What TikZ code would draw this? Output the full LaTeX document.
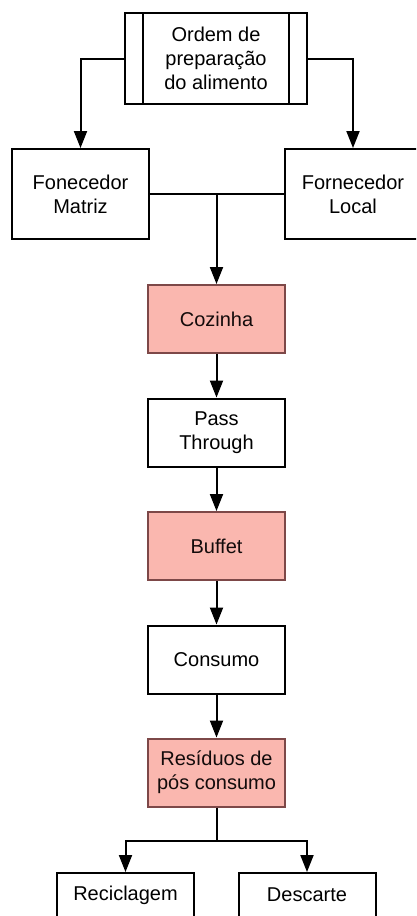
\documentclass[tikz,border=0pt]{standalone}
\usepackage{fontspec}
\setmainfont{Liberation Sans}
\usetikzlibrary{arrows.meta}
\usetikzlibrary{positioning}
\definecolor{rosa}{RGB}{250,183,175}
\definecolor{rosaborda}{RGB}{125,72,72}

\begin{document}
\begin{tikzpicture}[x=1pt,y=-1pt,line width=2pt,>={Triangle[length=17pt,width=13pt]},
	caixa/.style={draw,rectangle,minimum width=137pt,minimum height=68pt,align=center,inner sep=2pt,font=\fontsize{20}{24}\selectfont},
	alta/.style={caixa,minimum height=90pt},
	quente/.style={caixa,fill=rosa,draw=rosaborda,text=black!85!rosaborda},
	fim/.style={caixa,minimum height=44pt}]
		\useasboundingbox (0,0) rectangle (416,916);
		\clip (0,0) rectangle (416,916);
		\node[caixa,minimum width=182pt,minimum height=91pt] (ordem) at (216,58.5) {Ordem de\\preparação\\do alimento};
		\draw  ([xshift=19pt]ordem.north west) -- ([xshift=19pt]ordem.south west);
		\draw  ([xshift=-19pt]ordem.north east) -- ([xshift=-19pt]ordem.south east);
		
		\node[alta] (matriz) at (80.5,194) {Fonecedor\\Matriz};
		\node[alta] (local) at (353,194) {Fornecedor\\Local};
		\node[quente] (cozinha) at (216.5,319) {Cozinha};
		\node[caixa] (pass) at (216.5,432.5) {Pass\\Through};
		\node[quente] (buffet) at (216.5,546) {Buffet};
		\node[caixa] (consumo) at (216.5,659.5) {Consumo};
		\node[quente] (residuos) at (216.5,772.5) {Resíduos de\\pós consumo};
		\node[fim] (reciclagem) at (125.5,895) {Reciclagem};
		\node[fim] (descarte) at (307,895) {Descarte};
		
		\draw[->]  (ordem.west) -| (matriz.north);
		\draw[->]  (ordem.east) -| (local.north);
		\draw  (matriz.east) -- (local.west);
		\draw[->]  (matriz.east -| cozinha.north) -- (cozinha.north);
		\draw[->]  (cozinha) -- (pass);
		\draw[->]  (pass) -- (buffet);
		\draw[->]  (buffet) -- (consumo);
		\draw[->]  (consumo) -- (residuos);
		
		\coordinate[below=33pt of residuos.south] (ramo);
		\draw  (residuos.south) -- (ramo);
		\draw[->]  (ramo) -| (reciclagem.north);
		\draw[->]  (ramo) -| (descarte.north);
		\end{tikzpicture}
\end{document}
